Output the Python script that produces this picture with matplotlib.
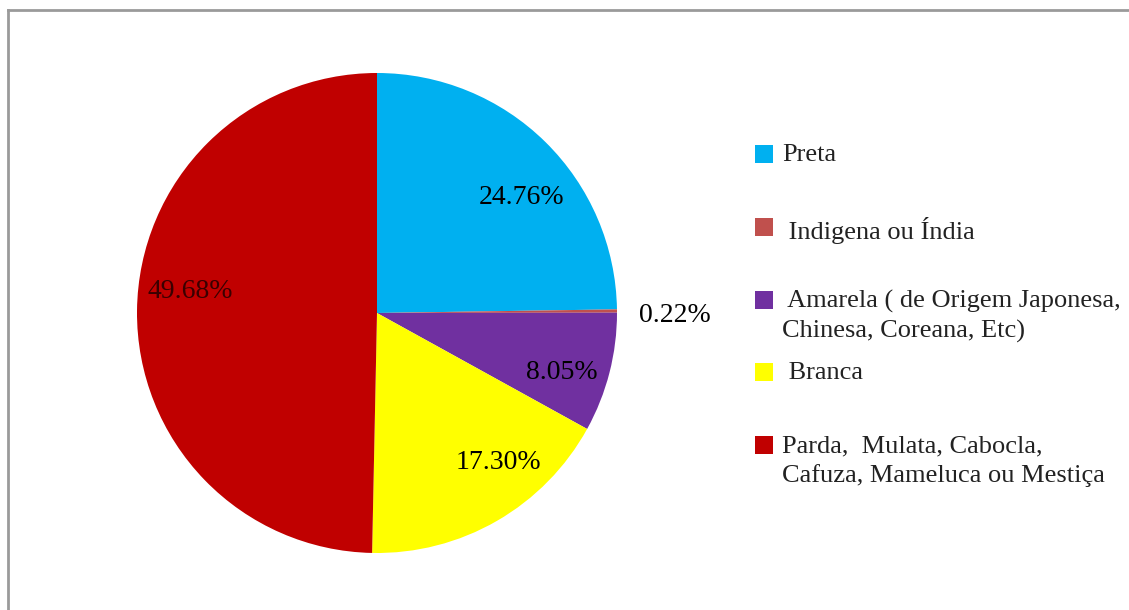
import matplotlib.pyplot as plt
from matplotlib.lines import Line2D
from matplotlib.patches import Rectangle

plt.rcParams['font.family'] = ['Liberation Serif', 'DejaVu Serif']

# dados: distribuição por raça/cor (%)
categorias = ['Preta', ' Indigena ou Índia',
              ' Amarela ( de Origem Japonesa,\nChinesa, Coreana, Etc)',
              ' Branca',
              'Parda,  Mulata, Cabocla,\nCafuza, Mameluca ou Mestiça']
valores = [24.76, 0.22, 8.05, 17.30, 49.68]
cores = ['#00B0F0', '#C0504D', '#7030A0', '#FFFF00', '#C00000']

# posição dos rótulos (em unidades do raio)
pos_rotulos = [(0.604, 0.483), (1.24, -0.01), (0.771, -0.246),
               (0.508, -0.621), (-0.779, 0.088)]
# posição vertical das entradas da legenda (px a partir do topo)
leg_y = [154, 227, 300, 372, 445]

W, H = 1129, 610
fig = plt.figure(figsize=(W / 100, H / 100), dpi=100)

# moldura do gráfico
fig.add_artist(Line2D([8 / W, 8 / W], [0, 1 - 10 / H], color='#9a9a9a', lw=2,
                      transform=fig.transFigure))
fig.add_artist(Line2D([8 / W, 1], [1 - 10 / H, 1 - 10 / H], color='#9a9a9a', lw=2,
                      transform=fig.transFigure))

ax = fig.add_axes([137 / W, 57 / H, 480 / W, 480 / H])
ax.pie(valores, colors=cores, startangle=90, counterclock=False, radius=1,
       wedgeprops=dict(linewidth=0))
ax.set_xlim(-1, 1)
ax.set_ylim(-1, 1)
ax.set_aspect('equal')
ax.axis('off')

for v, (x, y) in zip(valores, pos_rotulos):
    ax.text(x, y, f'{v:.2f}%', ha='center', va='center', fontsize=20,
            color='black' if v != 49.68 else '#3a0000')

# legenda
for cat, cor, y in zip(categorias, cores, leg_y):
    fig.add_artist(Rectangle((755 / W, 1 - (y + 9) / H), 18 / W, 18 / H,
                             facecolor=cor, edgecolor='none',
                             transform=fig.transFigure))
    fig.text(782 / W, 1 - (y - 10) / H, cat, ha='left', va='top', fontsize=19,
             linespacing=1.4, color='#222222')

fig.savefig('out.png', dpi=100)
